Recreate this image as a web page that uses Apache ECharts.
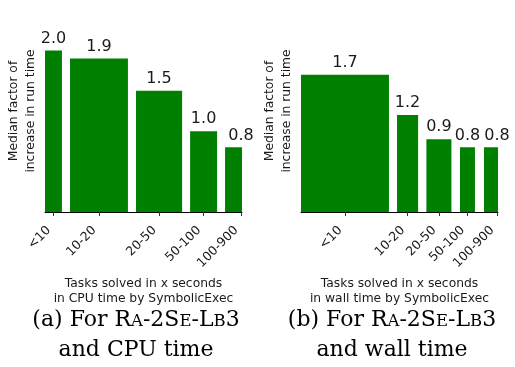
<!DOCTYPE html>
<html>
<head>
<meta charset="utf-8">
<script src="https://cdn.jsdelivr.net/npm/echarts@6/dist/echarts.min.js"></script>
<style>
  html, body { margin: 0; padding: 0; background: #fff; }
  #chart { width: 515px; height: 367px; }
</style>
</head>
<body>
<div id="chart"></div>
<script>
// Run-time buckets (seconds needed by SymbolicExec)
const bucketLabels = ['<10', '10-20', '20-50', '50-100', '100-900'];

// Median factor of increase in run time per bucket
const cpuFactor = [2.0, 1.9, 1.5, 1.0, 0.8];
const wallFactor = [1.7, 1.2, 0.9, 0.8, 0.8];

// Bucket extent on the horizontal scale (0..100): middle and span
const cpuBucketMid = [4.3, 27.4, 57.9, 80.5, 99.5];
const cpuBucketSpan = [8.6, 29.4, 23.4, 13.7, 16.2];
const wallBucketMid = [22.3, 54.1, 70.0, 84.5, 99.5];
const wallBucketSpan = [44.7, 10.7, 12.7, 7.6, 13.2];

const BAR_COLOR = '#008000';
const TEXT_COLOR = '#1a1a1a';
const SANS = 'DejaVu Sans';
const SERIF = 'DejaVu Serif';

function barData(mid, span, vals) {
  return vals.map((v, i) => [mid[i], span[i], v]);
}

// Bars are clipped to the plot area; the value label sits over the bucket middle
function renderBar(params, api) {
  const mid = api.value(0);
  const span = api.value(1);
  const val = api.value(2);
  const topLeft = api.coord([mid - span / 2, val]);
  const botRight = api.coord([mid + span / 2, 0]);
  const cs = params.coordSys;
  const rect = echarts.graphic.clipRectByRect({
    x: topLeft[0], y: topLeft[1],
    width: botRight[0] - topLeft[0], height: botRight[1] - topLeft[1]
  }, { x: cs.x, y: cs.y, width: cs.width, height: cs.height });
  const anchor = api.coord([mid, val]);
  return {
    type: 'group',
    children: [
      { type: 'rect', shape: rect, style: { fill: BAR_COLOR } },
      {
        type: 'text', x: anchor[0], y: anchor[1] - 4,
        style: {
          text: val.toFixed(1), fill: TEXT_COLOR,
          font: '16px "' + SANS + '"',
          textAlign: 'center', textVerticalAlign: 'bottom'
        }
      }
    ]
  };
}

function makeXAxis(gridIndex, mids, title) {
  const labelFor = (value) => {
    let best = 0;
    mids.forEach((m, i) => { if (Math.abs(m - value) < Math.abs(mids[best] - value)) best = i; });
    return bucketLabels[best];
  };
  return {
    type: 'value', gridIndex, min: 0, max: 100,
    axisLine: { show: true, onZero: false, lineStyle: { color: '#000', width: 1 } },
    axisTick: { show: true, customValues: mids, length: 4, lineStyle: { color: '#333' } },
    axisLabel: {
      show: true, customValues: mids, rotate: 45, margin: 21,
      align: 'right', verticalAlign: 'bottom',
      formatter: labelFor,
      color: TEXT_COLOR, fontFamily: SANS, fontSize: 12.5
    },
    splitLine: { show: false },
    name: title, nameLocation: 'middle', nameGap: 56,
    nameTextStyle: { color: TEXT_COLOR, fontFamily: SANS, fontSize: 12.3, lineHeight: 14.5 }
  };
}

function makeYAxis(gridIndex) {
  return {
    type: 'value', gridIndex, min: 0, max: 2.5,
    axisLine: { show: false }, axisTick: { show: false },
    axisLabel: { show: false }, splitLine: { show: false },
    name: 'Median factor of\nincrease in run time',
    nameLocation: 'middle', nameRotate: 90, nameGap: 6,
    nameTextStyle: { color: TEXT_COLOR, fontFamily: SANS, fontSize: 12.3, lineHeight: 17 }
  };
}

// Two-line caption; "Ra-2Se-Lb3" is set in small capitals
function caption(cx, tag, second) {
  const normal = { fontSize: 22, lineHeight: 30, fontFamily: SERIF, fill: '#000' };
  const small = { fontSize: 16.5, lineHeight: 30, fontFamily: SERIF, fill: '#000', padding: [3.3, 0, 0, 0] };
  return {
    type: 'text', x: cx, y: 305,
    style: {
      text: '{n|(' + tag + ') For R}{s|A}{n|-2S}{s|E}{n|-L}{s|B}{n|3}\n{n|' + second + '}',
      textAlign: 'center', textVerticalAlign: 'top',
      rich: { n: normal, s: small }
    }
  };
}

const chart = echarts.init(document.getElementById('chart'), null, { renderer: 'canvas' });
chart.setOption({
  animation: false,
  backgroundColor: '#fff',
  grid: [
    { left: 45, top: 10, width: 197, height: 202 },
    { left: 301, top: 10, width: 197, height: 202 }
  ],
  xAxis: [
    makeXAxis(0, cpuBucketMid, 'Tasks solved in x seconds\nin CPU time by SymbolicExec'),
    makeXAxis(1, wallBucketMid, 'Tasks solved in x seconds\nin wall time by SymbolicExec')
  ],
  yAxis: [makeYAxis(0), makeYAxis(1)],
  series: [
    {
      type: 'custom', xAxisIndex: 0, yAxisIndex: 0, clip: false,
      data: barData(cpuBucketMid, cpuBucketSpan, cpuFactor),
      encode: { x: 0, y: 2 }, renderItem: renderBar
    },
    {
      type: 'custom', xAxisIndex: 1, yAxisIndex: 1, clip: false,
      data: barData(wallBucketMid, wallBucketSpan, wallFactor),
      encode: { x: 0, y: 2 }, renderItem: renderBar
    }
  ],
  graphic: [
    caption(136, 'a', 'and CPU time'),
    caption(392, 'b', 'and wall time')
  ]
});
</script>
</body>
</html>
